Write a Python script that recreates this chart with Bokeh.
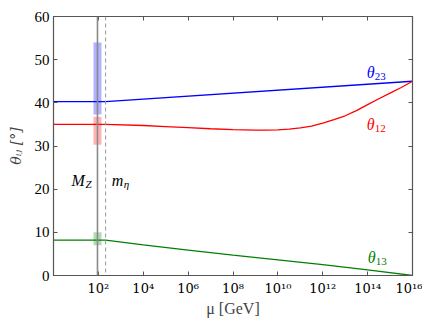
from bokeh.plotting import figure
from bokeh.models import (Span, LinearAxis, LogAxis, FixedTicker, ColumnDataSource,
                          CustomJSTickFormatter)
from bokeh.core.properties import value
from bokeh.embed import file_html
from bokeh.resources import INLINE

# ---- data ----
M_Z = 91.19
m_eta = 210.0

mu_23 = [1.0, 210.0, 1e16]
theta_23 = [40.3, 40.3, 45.0]

mu_12 = [1.0, 210.0, 1e4, 1e5, 1e6, 1e7, 1e8, 1e9, 10**9.5, 1e10, 10**10.5, 1e11,
         10**11.5, 1e12, 10**12.5, 1e13, 10**13.5, 1e14, 10**14.5, 1e15, 10**15.5, 1e16]
theta_12 = [35.0, 35.0, 34.75, 34.5, 34.25, 34.0, 33.8, 33.7, 33.7, 33.75, 33.9, 34.2,
            34.6, 35.3, 36.1, 37.0, 38.2, 39.6, 40.95, 42.25, 43.55, 45.0]

mu_13 = [1.0, 210.0, 1e4, 1e6, 1e8, 1e10, 1e12, 1e14, 1e16]
theta_13 = [8.2, 8.2, 7.1, 5.9, 4.7, 3.6, 2.5, 1.3, 0.0]

# experimental ranges at M_Z (low, high)
band_names = ["theta23", "theta12", "theta13"]
band_low = [37.3, 30.3, 7.0]
band_high = [54.0, 36.8, 10.0]
band_colors = ["blue", "red", "green"]

x_ticks = [1e2, 1e4, 1e6, 1e8, 1e10, 1e12, 1e14, 1e16]
x_tick_labels = ["10²", "10⁴", "10⁶", "10⁸", "10¹⁰", "10¹²", "10¹⁴", "10¹⁶"]
y_ticks = [0, 10, 20, 30, 40, 50, 60]

FONT = "Liberation Serif"
FONT2 = "DejaVu Serif"
AX = "#555555"

p = figure(x_axis_type="log", x_range=(1, 1e16), y_range=(0, 60),
           frame_width=359, frame_height=259,
           min_border_left=53, min_border_top=16, min_border_right=10, min_border_bottom=10,
           output_backend="svg", toolbar_location=None)
p.grid.visible = False
p.outline_line_color = AX
p.outline_line_width = 1.2
p.background_fill_color = "white"
p.border_fill_color = "white"

# bands
bsrc = ColumnDataSource(dict(
    x=[M_Z] * 3,
    y=[(lo + hi) / 2 for lo, hi in zip(band_low, band_high)],
    h=[hi - lo for lo, hi in zip(band_low, band_high)],
    c=band_colors))
p.rect(x="x", y="y", width=8, width_units="screen", height="h", source=bsrc,
       fill_color="c", fill_alpha=0.3, line_color=None)

# lines
p.line(mu_23, theta_23, line_color="#0000ff", line_width=1.3)
p.line(mu_12, theta_12, line_color="#ff0000", line_width=1.3)
p.line(mu_13, theta_13, line_color="#008000", line_width=1.3)

# vertical markers
p.add_layout(Span(location=M_Z, dimension="height", line_color="#8a8a8a", line_width=1.6))
p.add_layout(Span(location=m_eta, dimension="height", line_color="#999999",
                  line_width=1, line_dash="4 3"))

# labels
def sublabel(x, y, main, sub, color):
    p.text(x=[x], y=[y], text=[main], text_font=value(FONT), text_font_size="16px",
           text_font_style="italic", text_color=color, text_baseline="alphabetic",
           text_align="left")
    p.text(x=[x], y=[y], text=[sub], text_font=value(FONT), text_font_size="11px",
           text_color=color, text_baseline="alphabetic", text_align="left",
           x_offset=8, y_offset=4)

sublabel(10**13.96, 47.0, "θ", "23", "#0000ff")
sublabel(10**13.96, 34.9, "θ", "12", "#ff0000")
sublabel(10**14.0, 4.1, "θ", "13", "#008000")

p.text(x=[10**0.8], y=[22.0], text=["M"], text_font=value(FONT), text_font_size="16px",
       text_font_style="italic", text_color="black", text_baseline="alphabetic")
p.text(x=[10**0.8], y=[22.0], text=["Z"], text_font=value(FONT), text_font_size="11px",
       text_font_style="italic", text_color="black", text_baseline="alphabetic",
       x_offset=14, y_offset=3)
p.text(x=[10**2.6], y=[22.0], text=["m"], text_font=value(FONT), text_font_size="16px",
       text_font_style="italic", text_color="black", text_baseline="alphabetic")
p.text(x=[10**2.6], y=[22.0], text=["η"], text_font=value(FONT), text_font_size="11px",
       text_font_style="italic", text_color="black", text_baseline="alphabetic",
       x_offset=12, y_offset=3)

# axes styling
blank = CustomJSTickFormatter(code="return ' ';")

def style_axis(ax, show_labels):
    ax.axis_line_color = AX
    ax.major_tick_line_color = AX
    ax.major_tick_in = 4
    ax.major_tick_out = 0
    ax.minor_tick_line_color = None
    ax.major_label_text_font = FONT
    ax.major_label_text_color = "black"
    if show_labels:
        ax.major_label_text_font_size = "14px"
        ax.major_label_standoff = 4
    else:
        ax.major_label_text_font_size = "1px"
        ax.major_label_standoff = 0
        ax.formatter = blank

xax = p.xaxis[0]
xax.ticker = FixedTicker(ticks=x_ticks)
xax.formatter = CustomJSTickFormatter(
    args=dict(vals=x_ticks, labs=x_tick_labels),
    code="""
const e = Math.log10(tick);
for (let i = 0; i < vals.length; i++) {
  if (Math.abs(Math.log10(vals[i]) - e) < 1e-6) return labs[i];
}
return '';
""")
style_axis(xax, True)
xax.major_label_text_font = FONT2
xax.major_label_text_font_size = "13px"
xax.major_label_standoff = 5
xax.axis_label = "μ [GeV]"
xax.axis_label_text_font = FONT
xax.axis_label_text_font_style = "normal"
xax.axis_label_text_font_size = "16px"
xax.axis_label_standoff = 1

yax = p.yaxis[0]
yax.ticker = FixedTicker(ticks=y_ticks)
style_axis(yax, True)
yax.major_label_text_font_size = "15px"
yax.axis_label = "θᵢⱼ [°]"
yax.axis_label_text_font = FONT2
yax.axis_label_text_font_style = "italic"
yax.axis_label_text_font_size = "14px"
yax.axis_label_standoff = 8

top = LogAxis(ticker=FixedTicker(ticks=x_ticks))
style_axis(top, False)
p.add_layout(top, "above")
right = LinearAxis(ticker=FixedTicker(ticks=y_ticks))
style_axis(right, False)
p.add_layout(right, "right")

open("out.html", "w").write(file_html(p, INLINE))
